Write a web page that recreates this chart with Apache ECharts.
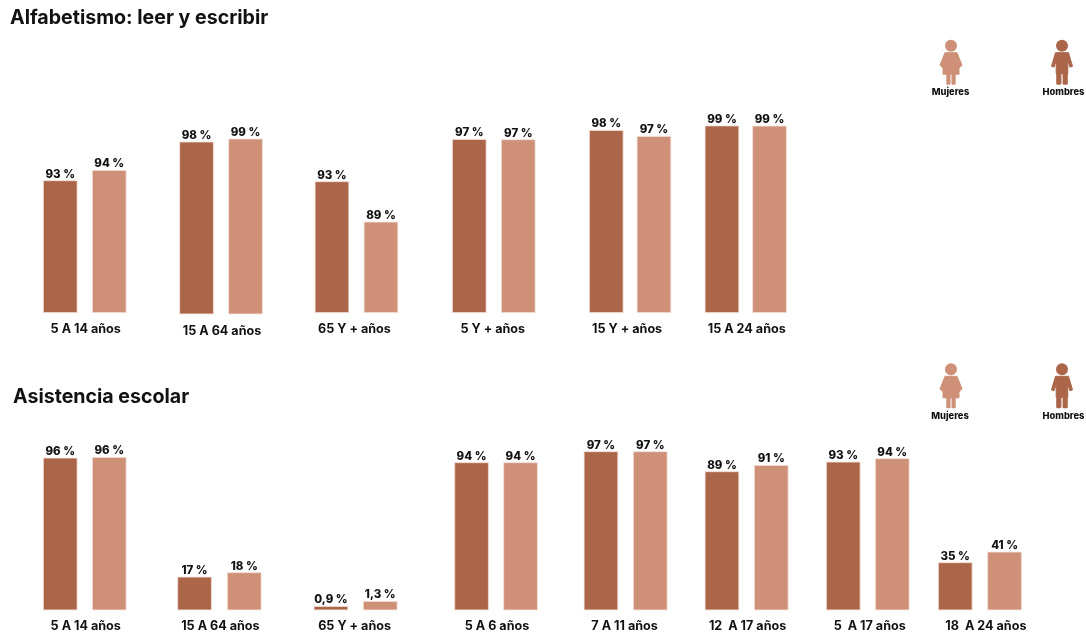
<!DOCTYPE html>
<html>
<head>
<meta charset="utf-8">
<style>html,body{margin:0;padding:0;background:#fff}#c{width:1086px;height:635px}</style>
<script src="https://cdn.jsdelivr.net/npm/echarts@6/dist/echarts.min.js"></script>
</head>
<body>
<div id="c"></div>
<script>
// Panel 1: Alfabetismo
const literacyCategories = ['5 A 14 años','15 A 64 años','65 Y + años','5 Y + años','15 Y + años','15 A 24 años'];
const literacyMen   = [93,98,93,97,98,99];
const literacyWomen = [94,99,89,97,97,99];
// The source infographic's bars are not drawn to a common scale: lengths are read off the picture.
const literacyMenLength   = [132.7,172.7,131.7,174,183,187.5];
const literacyWomenLength = [143,175.7,91.3,173.7,177,187.3];

// Panel 2: Asistencia escolar
const schoolCategories = ['5 A 14 años','15 A 64 años','65 Y + años','5 A 6 años','7 A 11 años','12  A 17 años','5  A 17 años','18  A 24 años'];
const schoolMen   = [96,17,0.9,94,97,89,93,35];
const schoolWomen = [96,18,1.3,94,97,91,94,41];
const schoolMenLength   = [152.6,33.6,4.3,148,159,139,148.6,48];
const schoolWomenLength = [153.3,38,9.3,148,159,145.3,152,58.6];

const sexNames = ['Hombres','Mujeres'];
const DARK = '#AB6649', LIGHT = '#CE9077', INK = '#111111';
const FONT = 'Inter, "Noto Sans", sans-serif';

// Layout of each group: x of first bar, x of second bar, baseline, horizontal nudge of the group label
const literacyLayout = [[43,92,313,1],[179.3,228.3,314.3,1],[314.7,363.7,313,-2],[452,501,313,-1],[589,636.7,313,-3],[704.7,752.3,313,1]];
const schoolLayout = [[43,92,610.3,1],[177.3,227,610.3,1],[313.7,363,610.3,-1],[454.3,503.3,610.3,1],[583.7,633,610.3,-1],[704.7,754,610.3,1],[826,875,610.3,2],[938,987.3,610.3,6]];

const BAR = 34.5, AXIS_MAX = 200;
const fmt = v => String(v).replace('.', ',') + ' %';
const grid = [], xAxis = [], yAxis = [], series = [];

function addPanel(cats, men, women, menLen, womenLen, layout, labelGap) {
  cats.forEach((cat, i) => {
    const idx = grid.length;
    const [x1, x2, base, nudge] = layout[i];
    const band = x2 - x1;
    grid.push({ left: x1 + BAR / 2 - band / 2, width: band * 2, top: base - AXIS_MAX, height: AXIS_MAX, containLabel: false, outerBoundsMode: 'none' });
    xAxis.push({
      type: 'category', gridIndex: idx, data: sexNames,
      axisLine: { show: false }, axisTick: { show: false }, axisLabel: { show: false }, splitLine: { show: false },
      name: cat, nameLocation: 'middle', nameGap: labelGap,
      nameTextStyle: { color: INK, fontFamily: FONT, fontWeight: 700, fontSize: 12.6,
        padding: [0, nudge < 0 ? -2 * nudge : 0, 0, nudge > 0 ? 2 * nudge : 0] }
    });
    yAxis.push({ type: 'value', gridIndex: idx, min: 0, max: AXIS_MAX, show: false });
    const item = (len, val, color) => ({
      value: len,
      itemStyle: { color, borderColor: '#F1DDD4', borderWidth: 0.8 },
      label: { show: true, position: 'top', distance: 0, formatter: fmt(val), color: INK, fontFamily: FONT, fontWeight: 800, fontSize: 11.5 }
    });
    series.push({
      type: 'bar', name: cat, xAxisIndex: idx, yAxisIndex: idx, barWidth: BAR, silent: true, animation: false,
      data: [item(menLen[i], men[i], DARK), item(womenLen[i], women[i], LIGHT)]
    });
  });
}
addPanel(literacyCategories, literacyMen, literacyWomen, literacyMenLength, literacyWomenLength, literacyLayout, 10);
addPanel(schoolCategories, schoolMen, schoolWomen, schoolMenLength, schoolWomenLength, schoolLayout, 9);

function womanIcon(x, y) {
  return { type: 'group', x, y, silent: true, children: [
    { type: 'circle', shape: { cx: 0, cy: 0, r: 6 }, style: { fill: LIGHT } },
    { type: 'polygon', shape: { points: [[-6,7],[6,7],[11,19.5],[8,22.5],[8,28.5],[-8,28.5],[-8,22.5],[-11,19.5]] }, style: { fill: LIGHT, stroke: LIGHT, lineWidth: 1, lineJoin: 'round' } },
    { type: 'rect', shape: { x: -4.7, y: 28, width: 4.2, height: 11, r: 1 }, style: { fill: LIGHT } },
    { type: 'rect', shape: { x: 0.5, y: 28, width: 4.2, height: 11, r: 1 }, style: { fill: LIGHT } }
  ]};
}
function manIcon(x, y) {
  return { type: 'group', x, y, silent: true, children: [
    { type: 'circle', shape: { cx: 0, cy: 0, r: 6 }, style: { fill: DARK } },
    { type: 'polygon', shape: { points: [[-6.5,7],[6.5,7],[10.5,20.5],[8,21.5],[5.8,15],[5.8,28],[-5.8,28],[-5.8,15],[-8,21.5],[-10.5,20.5]] }, style: { fill: DARK, stroke: DARK, lineWidth: 1, lineJoin: 'round' } },
    { type: 'rect', shape: { x: -5.8, y: 27, width: 5.2, height: 12, r: 1.5 }, style: { fill: DARK } },
    { type: 'rect', shape: { x: 0.6, y: 27, width: 5.2, height: 12, r: 1.5 }, style: { fill: DARK } }
  ]};
}
const legendText = (t, x, y) => ({ type: 'text', x, y, silent: true, style: { text: t, fill: INK, font: '800 9.3px ' + FONT, align: 'center', verticalAlign: 'middle' } });

const chart = echarts.init(document.getElementById('c'), null, { renderer: 'canvas' });
chart.setOption({
  backgroundColor: '#fff',
  animation: false,
  title: [
    { text: 'Alfabetismo: leer y escribir', left: 5, top: 3, textStyle: { color: INK, fontFamily: FONT, fontWeight: 700, fontSize: 19.6 } },
    { text: 'Asistencia escolar', left: 8, top: 382, textStyle: { color: INK, fontFamily: FONT, fontWeight: 700, fontSize: 19.6 } }
  ],
  grid, xAxis, yAxis, series,
  graphic: { elements: [
    womanIcon(951, 45.7), manIcon(1062, 45.7),
    legendText('Mujeres', 950.5, 92), legendText('Hombres', 1063.5, 92),
    womanIcon(951, 369.3), manIcon(1062, 369.3),
    legendText('Mujeres', 950, 415.7), legendText('Hombres', 1063.5, 415.7)
  ]}
});
</script>
</body>
</html>
